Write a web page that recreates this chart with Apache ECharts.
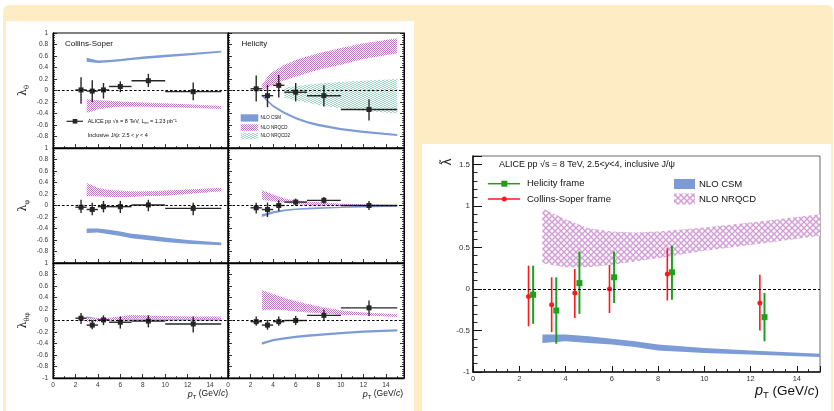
<!DOCTYPE html>
<html>
<head>
<meta charset="utf-8">
<script src="https://cdn.jsdelivr.net/npm/echarts@6/dist/echarts.min.js"></script>
<style>
  html, body { margin: 0; padding: 0; background: #fff; }
  #chart { width: 834px; height: 411px; }
</style>
</head>
<body>
<div id="chart"></div>
<script>
// ---- pT binning of the measurement (GeV/c) ----
const ptCenters = [2.5, 3.5, 4.5, 6, 8.5, 12.5];
const ptBinLow  = [2, 3, 4, 5, 7, 10];
const ptBinHigh = [3, 4, 5, 7, 10, 15];

// ---- measured polarization parameters: value, upper and lower end of the bar ----
const csThetaVal  = [0.01, -0.01, 0.01, 0.07, 0.17, -0.02];
const csThetaHi   = [0.23, 0.18, 0.13, 0.16, 0.29, 0.14];
const csThetaLo   = [-0.23, -0.20, -0.14, -0.03, 0.06, -0.17];
const hxThetaVal  = [0.03, -0.09, 0.09, -0.03, -0.09, -0.33];
const hxThetaHi   = [0.26, 0.10, 0.27, 0.13, 0.09, -0.15];
const hxThetaLo   = [-0.19, -0.29, -0.12, -0.19, -0.28, -0.52];
const csPhiVal    = [-0.03, -0.07, -0.02, -0.02, 0.01, -0.05];
const csPhiHi     = [0.10, 0.05, 0.08, 0.08, 0.10, 0.05];
const csPhiLo     = [-0.13, -0.17, -0.12, -0.13, -0.10, -0.17];
const hxPhiVal    = [-0.04, -0.07, 0.00, 0.06, 0.09, 0.00];
const hxPhiHi     = [0.05, 0.05, 0.09, 0.12, 0.15, 0.08];
const hxPhiLo     = [-0.14, -0.20, -0.10, 0.00, 0.03, -0.08];
const csThetaPhiVal = [0.04, -0.08, 0.01, -0.03, -0.01, -0.06];
const csThetaPhiHi  = [0.13, 0.01, 0.09, 0.07, 0.09, 0.07];
const csThetaPhiLo  = [-0.06, -0.15, -0.08, -0.14, -0.12, -0.21];
const hxThetaPhiVal = [-0.02, -0.08, -0.02, 0.00, 0.09, 0.22];
const hxThetaPhiHi  = [0.07, 0.01, 0.07, 0.08, 0.19, 0.35];
const hxThetaPhiLo  = [-0.09, -0.16, -0.09, -0.08, 0.01, 0.08];

// frame-invariant lambda-tilde
const hxTildeVal = [-0.07, -0.26, 0.07, 0.14, 0.20, -0.34];
const hxTildeHi  = [0.28, 0.14, 0.45, 0.45, 0.52, -0.05];
const hxTildeLo  = [-0.42, -0.66, -0.30, -0.17, -0.13, -0.63];
const csTildeVal = [-0.09, -0.19, -0.05, 0.00, 0.18, -0.17];
const csTildeHi  = [0.28, 0.14, 0.24, 0.29, 0.49, 0.17];
const csTildeLo  = [-0.45, -0.52, -0.35, -0.29, -0.14, -0.50];

// ---- NLO predictions (band edges) ----
const theoryPt     = [3, 4, 5, 6, 7, 8, 10, 12, 15];
const theoryPtFine = [3, 3.5, 4, 5, 6, 7, 8, 10, 12, 15];
const theoryPtNrqcd2 = [5, 6, 7, 8, 10, 12, 15];

const csmCsThetaHi   = [0.57, 0.52, 0.53, 0.55, 0.57, 0.59, 0.62, 0.65, 0.69];
const csmCsThetaLo   = [0.50, 0.48, 0.49, 0.51, 0.53, 0.55, 0.58, 0.61, 0.66];
const nrqcdCsThetaHi = [-0.15, -0.17, -0.18, -0.19, -0.20, -0.21, -0.22, -0.24, -0.27];
const nrqcdCsThetaLo = [-0.39, -0.33, -0.30, -0.28, -0.28, -0.28, -0.29, -0.30, -0.32];

const csmHxThetaHi   = [-0.06, -0.16, -0.25, -0.37, -0.46, -0.53, -0.58, -0.65, -0.70, -0.755];
const csmHxThetaLo   = [-0.10, -0.20, -0.29, -0.41, -0.50, -0.57, -0.62, -0.69, -0.74, -0.79];
const nrqcdHxThetaHi = [0.10, 0.24, 0.33, 0.45, 0.53, 0.59, 0.65, 0.74, 0.82, 0.91];
const nrqcdHxThetaLo = [-0.02, 0.05, 0.10, 0.18, 0.24, 0.30, 0.36, 0.45, 0.55, 0.65];
const nrqcd2HxThetaHi = [0.05, 0.08, 0.10, 0.12, 0.15, 0.17, 0.20];
const nrqcd2HxThetaLo = [-0.13, -0.17, -0.21, -0.25, -0.31, -0.35, -0.40];

const csmCsPhiHi   = [-0.40, -0.40, -0.42, -0.45, -0.49, -0.51, -0.555, -0.60, -0.645];
const csmCsPhiLo   = [-0.48, -0.47, -0.50, -0.53, -0.57, -0.59, -0.635, -0.665, -0.69];
const nrqcdCsPhiHi = [0.39, 0.31, 0.27, 0.26, 0.25, 0.25, 0.26, 0.28, 0.31];
const nrqcdCsPhiLo = [0.16, 0.16, 0.15, 0.15, 0.15, 0.16, 0.17, 0.20, 0.25];

const csmHxPhiHi   = [-0.15, -0.10, -0.07, -0.05, -0.04, -0.03, -0.02, -0.01, 0.00];
const csmHxPhiLo   = [-0.20, -0.14, -0.10, -0.08, -0.07, -0.06, -0.045, -0.035, -0.02];
const nrqcdHxPhiHi = [0.27, 0.19, 0.12, 0.09, 0.07, 0.06, 0.03, 0.02, 0.01];
const nrqcdHxPhiLo = [0.10, 0.07, 0.05, 0.02, 0.01, 0.00, -0.01, -0.01, -0.01];

const csmCsThetaPhiHi   = [0.07, 0.04, 0.03, 0.02, 0.02, 0.02, 0.02, 0.02, 0.02];
const csmCsThetaPhiLo   = [0.03, 0.02, 0.01, 0.00, 0.00, 0.00, 0.00, 0.00, 0.00];
const nrqcdCsThetaPhiHi = [0.05, 0.04, 0.05, 0.07, 0.10, 0.09, 0.08, 0.07, 0.07];
const nrqcdCsThetaPhiLo = [-0.03, -0.02, 0.00, 0.01, 0.03, 0.03, 0.03, 0.03, 0.02];

const csmHxThetaPhiHi   = [-0.38, -0.32, -0.29, -0.265, -0.245, -0.23, -0.20, -0.175, -0.15];
const csmHxThetaPhiLo   = [-0.42, -0.36, -0.33, -0.305, -0.285, -0.27, -0.24, -0.215, -0.19];
const nrqcdHxThetaPhiHi = [0.53, 0.46, 0.39, 0.34, 0.29, 0.25, 0.18, 0.14, 0.11];
const nrqcdHxThetaPhiLo = [0.18, 0.19, 0.18, 0.16, 0.14, 0.13, 0.10, 0.09, 0.06];

const csmTildeHi   = [-0.55, -0.55, -0.57, -0.60, -0.63, -0.67, -0.71, -0.74, -0.78];
const csmTildeLo   = [-0.65, -0.63, -0.65, -0.67, -0.70, -0.74, -0.77, -0.79, -0.82];
const nrqcdTildeHi = [0.97, 0.84, 0.73, 0.69, 0.68, 0.69, 0.74, 0.80, 0.90];
const nrqcdTildeLo = [0.31, 0.26, 0.26, 0.29, 0.33, 0.37, 0.46, 0.53, 0.64];

// horizontal display offset between the two frames in the lambda-tilde plot
const frameShift = 0.1;

// ---- styling ----
const FONT = 'Liberation Sans, Arial, Helvetica, sans-serif';
const CSM_BLUE = '#7d9bd6';
const HX_GREEN = '#1f9f1f';
const CS_RED = '#ff1a1a';
const DATA_BLACK = '#262626';

function makePattern(size, bg, color, draw) {
  const c = document.createElement('canvas');
  c.width = c.height = size;
  const g = c.getContext('2d');
  g.fillStyle = bg;
  g.fillRect(0, 0, size, size);
  g.fillStyle = color;
  g.strokeStyle = color;
  draw(g, size);
  return { type: 'pattern', image: c, repeat: 'repeat' };
}
// fine checker for the small panels
const pinkSmall = makePattern(2, '#fff', '#c07ac5', (g) => {
  g.fillRect(0, 0, 1, 1);
  g.fillRect(1, 1, 1, 1);
});
// open crosshatch for the lambda-tilde panel
const pinkLarge = makePattern(6, '#fff', '#d49fd8', (g, s) => {
  g.lineWidth = 1.5;
  g.beginPath();
  g.moveTo(-1, -1); g.lineTo(s + 1, s + 1);
  g.moveTo(s + 1, -1); g.lineTo(-1, s + 1);
  g.stroke();
});
const greenHatch = makePattern(4, '#fff', '#9fd6c6', (g) => {
  [[0, 1], [1, 1], [2, 0], [3, 0], [0, 3], [1, 3], [2, 2], [3, 2]].forEach(([x, y]) => g.fillRect(x, y, 1, 1));
});

// ---- panel geometry ----
const colLeft = [53, 228];
const colWidth = [175, 176];
const rowTop = [33, 148, 263];
const rowHeight = 115;

const grids = [];
const xAxes = [];
const yAxes = [];
const extraRightAxes = [];
const series = [];

function fmtOneDecimal(v) {
  const r = Math.round(v * 10) / 10;
  return String(r === 0 ? 0 : r);
}

const yNames = ['{l|λ}{s|θ}', '{l|λ}{s|φ}', '{l|λ}{s|θφ}'];

for (let row = 0; row < 3; row++) {
  for (let col = 0; col < 2; col++) {
    const gi = row * 2 + col;
    grids.push({
      left: colLeft[col], top: rowTop[row], width: colWidth[col], height: rowHeight,
      show: true, borderColor: '#000', borderWidth: 1, backgroundColor: 'transparent'
    });
    xAxes.push({
      type: 'value', gridIndex: gi, min: 0, max: 15.6, interval: 2,
      axisLine: { show: true, onZero: false, lineStyle: { color: '#000', width: 1.3 } },
      axisTick: { show: true, inside: true, length: 4, lineStyle: { color: '#000', width: 0.8 } },
      minorTick: { show: true, splitNumber: 2, length: 2, lineStyle: { color: '#000', width: 0.7 } },
      splitLine: { show: false },
      axisLabel: {
        show: row === 2, fontSize: 6.5, color: '#333', margin: 4, fontFamily: FONT,
        formatter: (v) => (v > 14.5 ? '' : String(v))
      }
    });
    yAxes.push({
      type: 'value', gridIndex: gi, min: -1, max: 1, interval: 0.2,
      axisLine: { show: true, onZero: false, lineStyle: { color: '#000', width: 1.3 } },
      axisTick: { show: true, inside: true, length: 4, lineStyle: { color: '#000', width: 0.8 } },
      minorTick: { show: true, splitNumber: 5, length: 2, lineStyle: { color: '#000', width: 0.7 } },
      splitLine: { show: false },
      axisLabel: {
        show: col === 0, fontSize: 6.5, color: '#333', margin: 5, fontFamily: FONT,
        formatter: (v) => (row < 2 && v < -0.99 ? '' : fmtOneDecimal(v))
      },
      name: col === 0 ? yNames[row] : '',
      nameLocation: 'middle', nameGap: 22, nameRotate: 90,
      nameTextStyle: {
        rich: {
          l: { fontSize: 11, fontFamily: 'DejaVu Serif, serif', color: '#222' },
          s: { fontSize: 7, fontFamily: 'DejaVu Serif, serif', color: '#222', padding: [8, 0, 0, 0] }
        }
      }
    });
    if (col === 1) {
      // tick marks along the outer right edge of the helicity panels
      extraRightAxes.push({
        type: 'value', gridIndex: gi, position: 'right', min: -1, max: 1, interval: 0.2,
        axisLine: { show: true, onZero: false, lineStyle: { color: '#000', width: 1 } },
        axisTick: { show: true, inside: true, length: 4, lineStyle: { color: '#000', width: 0.8 } },
        minorTick: { show: true, splitNumber: 5, length: 2, lineStyle: { color: '#000', width: 0.7 } },
        splitLine: { show: false },
        axisLabel: { show: false }
      });
    }
  }
}

// lambda-tilde panel
grids.push({ left: 473, top: 156, width: 347, height: 216, show: true, borderColor: '#444', borderWidth: 0.8, backgroundColor: 'transparent' });
xAxes.push({
  type: 'value', gridIndex: 6, min: 0, max: 15, interval: 2,
  axisLine: { show: true, onZero: false, lineStyle: { color: '#111', width: 1.6 } },
  axisTick: { show: true, inside: true, length: 6, lineStyle: { color: '#111', width: 1 } },
  minorTick: { show: true, splitNumber: 4, length: 3, lineStyle: { color: '#111', width: 0.9 } },
  splitLine: { show: false },
  axisLabel: { fontSize: 7.5, color: '#333', margin: 3, fontFamily: FONT, formatter: (v) => (v > 14.5 ? '' : String(v)) }
});
yAxes.push({
  type: 'value', gridIndex: 6, min: -1, max: 1.6, interval: 0.5,
  axisLine: { show: true, onZero: false, lineStyle: { color: '#111', width: 1.6 } },
  axisTick: { show: true, inside: true, length: 9, lineStyle: { color: '#111', width: 1 } },
  minorTick: { show: true, splitNumber: 5, length: 4.5, lineStyle: { color: '#111', width: 0.9 } },
  splitLine: { show: false },
  axisLabel: {
    fontSize: 8, color: '#333', margin: 3, fontFamily: FONT,
    formatter: (v) => {
      const r = Math.round(v * 10) / 10;
      return Math.abs(r * 2 - Math.round(r * 2)) > 1e-6 ? '' : String(r === 0 ? 0 : r);
    }
  }
});
extraRightAxes.forEach((a) => yAxes.push(a));

// ---- series builders ----
function bandSeries(gi, xs, lo, hi, fill, z) {
  return {
    type: 'custom', xAxisIndex: gi, yAxisIndex: gi, silent: true, z: z || 2,
    data: xs.map((x, i) => [x, lo[i], hi[i]]),
    encode: { x: 0, y: [1, 2] },
    renderItem: (params, api) => {
      if (params.dataIndex !== 0) return null;
      const pts = [];
      for (let i = 0; i < xs.length; i++) pts.push(api.coord([xs[i], hi[i]]));
      for (let i = xs.length - 1; i >= 0; i--) pts.push(api.coord([xs[i], lo[i]]));
      return { type: 'polygon', shape: { points: pts }, style: { fill: fill, stroke: null } };
    }
  };
}

function errorBarSeries(gi, xs, val, lo, hi, xl, xh, color, width) {
  return {
    type: 'custom', xAxisIndex: gi, yAxisIndex: gi, silent: true, z: 3,
    data: xs.map((x, i) => [x, val[i], xl ? xl[i] : x, xh ? xh[i] : x, lo[i], hi[i]]),
    encode: { x: [0, 2, 3], y: [1, 4, 5] },
    renderItem: (params, api) => {
      const x = api.value(0), y = api.value(1);
      const top = api.coord([x, api.value(5)]);
      const bot = api.coord([x, api.value(4)]);
      const children = [{
        type: 'line', shape: { x1: top[0], y1: top[1], x2: bot[0], y2: bot[1] },
        style: { stroke: color, lineWidth: width }
      }];
      if (api.value(3) - api.value(2) > 1e-9) {
        const a = api.coord([api.value(2), y]);
        const b = api.coord([api.value(3), y]);
        children.push({
          type: 'line', shape: { x1: a[0], y1: a[1], x2: b[0], y2: b[1] },
          style: { stroke: color, lineWidth: width }
        });
      }
      return { type: 'group', children: children };
    }
  };
}

function markerSeries(gi, xs, val, symbol, size, color, withZeroLine, dash) {
  const s = {
    type: 'scatter', xAxisIndex: gi, yAxisIndex: gi, silent: true, z: 4,
    symbol: symbol, symbolSize: size,
    itemStyle: { color: color, opacity: 1 },
    data: xs.map((x, i) => [x, val[i]])
  };
  if (withZeroLine) {
    s.markLine = {
      silent: true, symbol: 'none', animation: false,
      label: { show: false },
      lineStyle: { color: '#000', width: 1, type: dash, opacity: 1 },
      emphasis: { disabled: true },
      data: [{ yAxis: 0 }]
    };
  }
  return s;
}

// ---- six frame-dependent panels ----
const leftPanels = [
  { val: csThetaVal, lo: csThetaLo, hi: csThetaHi, bands: [
    [theoryPt, csmCsThetaLo, csmCsThetaHi, CSM_BLUE], [theoryPt, nrqcdCsThetaLo, nrqcdCsThetaHi, pinkSmall]] },
  { val: hxThetaVal, lo: hxThetaLo, hi: hxThetaHi, bands: [
    [theoryPtFine, csmHxThetaLo, csmHxThetaHi, CSM_BLUE], [theoryPtFine, nrqcdHxThetaLo, nrqcdHxThetaHi, pinkSmall],
    [theoryPtNrqcd2, nrqcd2HxThetaLo, nrqcd2HxThetaHi, greenHatch]] },
  { val: csPhiVal, lo: csPhiLo, hi: csPhiHi, bands: [
    [theoryPt, csmCsPhiLo, csmCsPhiHi, CSM_BLUE], [theoryPt, nrqcdCsPhiLo, nrqcdCsPhiHi, pinkSmall]] },
  { val: hxPhiVal, lo: hxPhiLo, hi: hxPhiHi, bands: [
    [theoryPt, csmHxPhiLo, csmHxPhiHi, CSM_BLUE], [theoryPt, nrqcdHxPhiLo, nrqcdHxPhiHi, pinkSmall]] },
  { val: csThetaPhiVal, lo: csThetaPhiLo, hi: csThetaPhiHi, bands: [
    [theoryPt, csmCsThetaPhiLo, csmCsThetaPhiHi, CSM_BLUE], [theoryPt, nrqcdCsThetaPhiLo, nrqcdCsThetaPhiHi, pinkSmall]] },
  { val: hxThetaPhiVal, lo: hxThetaPhiLo, hi: hxThetaPhiHi, bands: [
    [theoryPt, csmHxThetaPhiLo, csmHxThetaPhiHi, CSM_BLUE], [theoryPt, nrqcdHxThetaPhiLo, nrqcdHxThetaPhiHi, pinkSmall]] }
];

leftPanels.forEach((p, gi) => {
  p.bands.forEach((b) => series.push(bandSeries(gi, b[0], b[1], b[2], b[3])));
  series.push(errorBarSeries(gi, ptCenters, p.val, p.lo, p.hi, ptBinLow, ptBinHigh, DATA_BLACK, 1.4));
  series.push(markerSeries(gi, ptCenters, p.val, 'rect', 5, DATA_BLACK, true, [2.5, 2]));
});

// ---- lambda-tilde panel ----
const csX = ptCenters.map((x) => x - frameShift);
const hxX = ptCenters.map((x) => x + frameShift);
series.push(bandSeries(6, theoryPt, nrqcdTildeLo, nrqcdTildeHi, pinkLarge));
series.push(bandSeries(6, theoryPt, csmTildeLo, csmTildeHi, CSM_BLUE));
series.push(errorBarSeries(6, csX, csTildeVal, csTildeLo, csTildeHi, null, null, CS_RED, 1.6));
series.push(errorBarSeries(6, hxX, hxTildeVal, hxTildeLo, hxTildeHi, null, null, HX_GREEN, 2));
series.push(markerSeries(6, csX, csTildeVal, 'circle', 5, CS_RED, true, [3, 2]));
series.push(markerSeries(6, hxX, hxTildeVal, 'rect', 6, HX_GREEN, false));

// ---- background panels, titles and legends ----
function txt(x, y, text, size, opts) {
  const o = opts || {};
  return {
    type: 'text', x: x, y: y, rotation: o.rotation || 0, z: 50, silent: true,
    style: {
      text: text, fontSize: size, fontFamily: o.family || FONT, fill: o.color || '#111',
      align: o.align || 'left', verticalAlign: o.valign || 'middle', rich: o.rich
    }
  };
}
const ptRich = (pSize, subSize, restSize, shift) => ({
  p: { fontSize: pSize, fontStyle: 'italic', fontFamily: FONT, color: '#222' },
  t: { fontSize: subSize, fontFamily: FONT, color: '#222', padding: [shift, 0, 0, 0] },
  r: { fontSize: restSize, fontFamily: FONT, color: '#222' },
  i: { fontSize: restSize, fontStyle: 'italic', fontFamily: FONT, color: '#222' }
});
const ptTitle = '{p|p}{t|T}{r| (GeV/}{i|c}{r|)}';

const graphic = [
  { type: 'rect', z: -100, silent: true, shape: { x: 3, y: 5, width: 830, height: 420, r: [6, 6, 0, 0] }, style: { fill: '#feedc4' } },
  { type: 'rect', z: -99, silent: true, shape: { x: 6, y: 21, width: 408, height: 400 }, style: { fill: '#fff' } },
  { type: 'rect', z: -99, silent: true, shape: { x: 422, y: 144, width: 409, height: 280 }, style: { fill: '#fff' } },

  txt(65, 43.5, 'Collins-Soper', 8),
  txt(241.5, 43.5, 'Helicity', 8),

  // data legend of the first panel
  { type: 'line', z: 50, silent: true, shape: { x1: 66.5, y1: 121.3, x2: 83, y2: 121.3 }, style: { stroke: DATA_BLACK, lineWidth: 1.2 } },
  { type: 'rect', z: 51, silent: true, shape: { x: 72.7, y: 119, width: 4.6, height: 4.6 }, style: { fill: DATA_BLACK } },
  txt(87.7, 121.3, 'ALICE pp √s = 8 TeV, L{s|int} = 1.23 pb⁻¹', 5.5, {
    rich: { s: { fontSize: 3.8, fontFamily: FONT, padding: [3, 0, 0, 0] } }
  }),
  txt(87.7, 135.3, 'Inclusive J/ψ: 2.5 < {i|y} < 4', 5.5, {
    rich: { i: { fontSize: 5.5, fontStyle: 'italic', fontFamily: FONT } }
  }),

  // model legend of the helicity panel
  { type: 'rect', z: 50, silent: true, shape: { x: 240.7, y: 114.3, width: 17.6, height: 7.3 }, style: { fill: CSM_BLUE } },
  { type: 'rect', z: 50, silent: true, shape: { x: 240.7, y: 124.2, width: 17.6, height: 6.6 }, style: { fill: pinkSmall } },
  { type: 'rect', z: 50, silent: true, shape: { x: 240.7, y: 132.7, width: 17.6, height: 6.6 }, style: { fill: greenHatch } },
  txt(260.5, 118, 'NLO CSM', 4.5),
  txt(260.5, 127.5, 'NLO NRQCD', 4.5),
  txt(260.5, 136, 'NLO NRQCD2', 4.5),

  txt(228, 394, ptTitle, 8.5, { align: 'right', rich: ptRich(9, 6, 8.5, 6) }),
  txt(403, 394, ptTitle, 8.5, { align: 'right', rich: ptRich(9, 6, 8.5, 6) }),

  // lambda-tilde panel annotations
  txt(448, 162, 'λ̃', 12, { rotation: Math.PI / 2, align: 'center', family: 'DejaVu Sans, sans-serif', color: '#222' }),
  txt(499, 164.5, 'ALICE pp √s = 8 TeV, 2.5<{i|y}<4, inclusive J/ψ', 9, {
    rich: { i: { fontSize: 9, fontStyle: 'italic', fontFamily: FONT } }
  }),
  { type: 'line', z: 50, silent: true, shape: { x1: 488, y1: 183.7, x2: 520, y2: 183.7 }, style: { stroke: HX_GREEN, lineWidth: 1.5 } },
  { type: 'rect', z: 51, silent: true, shape: { x: 501.3, y: 180.7, width: 6, height: 6 }, style: { fill: HX_GREEN } },
  { type: 'line', z: 50, silent: true, shape: { x1: 488, y1: 199, x2: 520, y2: 199 }, style: { stroke: CS_RED, lineWidth: 1.5 } },
  { type: 'circle', z: 51, silent: true, shape: { cx: 504.3, cy: 199, r: 2.5 }, style: { fill: CS_RED } },
  txt(527, 183.7, 'Helicity frame', 9.5),
  txt(527, 199, 'Collins-Soper frame', 9.5),
  { type: 'rect', z: 50, silent: true, shape: { x: 674, y: 179, width: 21, height: 10 }, style: { fill: CSM_BLUE } },
  { type: 'rect', z: 50, silent: true, shape: { x: 674, y: 193.5, width: 21, height: 11 }, style: { fill: pinkLarge } },
  txt(699, 184, 'NLO CSM', 9.5),
  txt(699, 199, 'NLO NRQCD', 9.5),
  txt(819, 391, ptTitle, 13.5, { align: 'right', rich: ptRich(14.5, 9.5, 13.5, 9) })
];

const chart = echarts.init(document.getElementById('chart'), null, { renderer: 'canvas' });
chart.setOption({
  animation: false,
  backgroundColor: '#fff',
  textStyle: { fontFamily: FONT },
  grid: grids,
  xAxis: xAxes,
  yAxis: yAxes,
  series: series,
  graphic: graphic
});
</script>
</body>
</html>
